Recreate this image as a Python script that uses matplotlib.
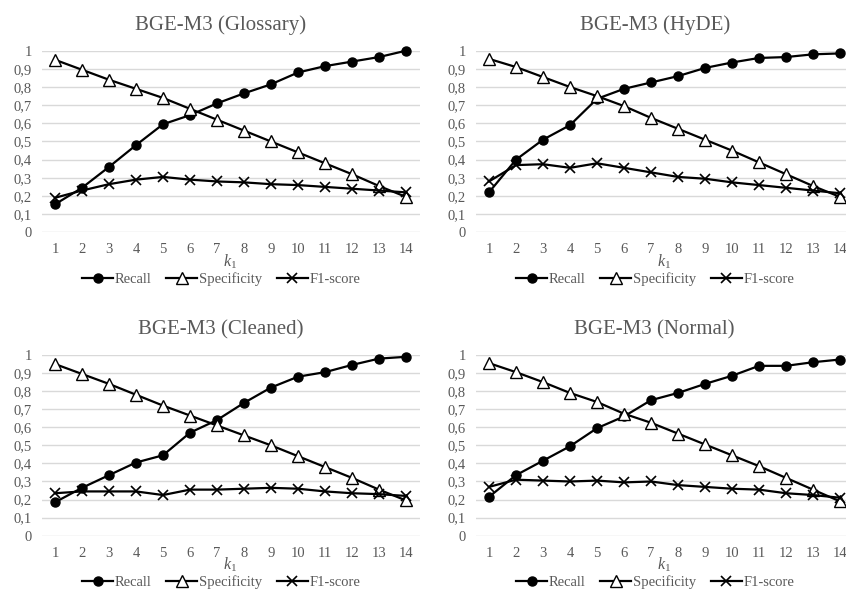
# Four-panel BGE-M3 comparison: Recall, Specificity and F1-score against k1
import matplotlib.pyplot as plt
from matplotlib.ticker import FuncFormatter, MultipleLocator

plt.rcParams['font.family'] = ['Liberation Serif', 'DejaVu Serif']
plt.rcParams['mathtext.fontset'] = 'custom'
plt.rcParams['mathtext.it'] = 'Liberation Serif:italic'
plt.rcParams['mathtext.rm'] = 'Liberation Serif'

k_values = list(range(1, 15))

titles = ['BGE-M3 (Glossary)', 'BGE-M3 (HyDE)', 'BGE-M3 (Cleaned)', 'BGE-M3 (Normal)']

recall_glossary = [0.154, 0.245, 0.36, 0.48, 0.595, 0.645, 0.71, 0.765, 0.815, 0.88, 0.915, 0.94, 0.965, 1.0]
spec_glossary = [0.95, 0.895, 0.84, 0.79, 0.74, 0.68, 0.62, 0.56, 0.50, 0.44, 0.38, 0.32, 0.255, 0.195]
f1_glossary = [0.19, 0.23, 0.265, 0.29, 0.305, 0.29, 0.28, 0.275, 0.265, 0.26, 0.25, 0.24, 0.23, 0.22]

recall_hyde = [0.22, 0.40, 0.51, 0.59, 0.735, 0.79, 0.825, 0.86, 0.905, 0.935, 0.96, 0.965, 0.98, 0.985]
spec_hyde = [0.955, 0.91, 0.855, 0.80, 0.75, 0.695, 0.63, 0.57, 0.51, 0.45, 0.385, 0.32, 0.255, 0.195]
f1_hyde = [0.28, 0.37, 0.375, 0.355, 0.38, 0.355, 0.33, 0.305, 0.295, 0.275, 0.26, 0.245, 0.23, 0.215]

recall_cleaned = [0.185, 0.265, 0.335, 0.405, 0.445, 0.57, 0.64, 0.735, 0.82, 0.88, 0.905, 0.945, 0.98, 0.99]
spec_cleaned = [0.95, 0.895, 0.84, 0.78, 0.72, 0.665, 0.61, 0.555, 0.50, 0.44, 0.38, 0.32, 0.255, 0.195]
f1_cleaned = [0.235, 0.245, 0.245, 0.245, 0.225, 0.255, 0.255, 0.26, 0.265, 0.26, 0.245, 0.235, 0.23, 0.22]

recall_normal = [0.215, 0.335, 0.415, 0.495, 0.595, 0.66, 0.75, 0.79, 0.84, 0.885, 0.94, 0.94, 0.96, 0.975]
spec_normal = [0.955, 0.905, 0.85, 0.79, 0.74, 0.675, 0.625, 0.565, 0.505, 0.445, 0.385, 0.32, 0.255, 0.19]
f1_normal = [0.27, 0.31, 0.305, 0.30, 0.305, 0.295, 0.30, 0.28, 0.27, 0.26, 0.255, 0.235, 0.225, 0.21]

panels = [
    (recall_glossary, spec_glossary, f1_glossary),
    (recall_hyde, spec_hyde, f1_hyde),
    (recall_cleaned, spec_cleaned, f1_cleaned),
    (recall_normal, spec_normal, f1_normal),
]

W, H = 846, 590
# axes boxes in pixels: left, top, width, height
boxes = [(41.5, 50.7, 378, 181.6), (475.5, 50.7, 378, 181.6),
         (41.5, 355, 378, 180.7), (475.5, 355, 378, 180.7)]

grey = '#595959'
fig = plt.figure(figsize=(8.46, 5.9), dpi=100)

for (recall, spec, f1), title, (l, t, w, h) in zip(panels, titles, boxes):
    ax = fig.add_axes([l / W, 1 - (t + h) / H, w / W, h / H])
    ax.plot(k_values, recall, '-o', color='black', lw=1.6, ms=6.5, label='Recall', clip_on=False)
    ax.plot(k_values, spec, '-^', color='black', lw=1.6, ms=8.5, mfc='white',
            mec='black', mew=1.0, label='Specificity', clip_on=False)
    ax.plot(k_values, f1, '-x', color='black', lw=1.6, ms=7.5, mew=1.2, label='F1-score', clip_on=False)

    ax.set_xlim(0.5, 14.5)
    ax.set_ylim(0, 1)
    ax.set_xticks(k_values)
    ax.yaxis.set_major_locator(MultipleLocator(0.1))
    ax.yaxis.set_major_formatter(FuncFormatter(lambda v, p: f'{v:.1f}'.rstrip('0').rstrip('.').replace('.', ',')))
    ax.grid(axis='y', color='#d9d9d9', lw=1)
    ax.set_axisbelow(True)
    for s in ax.spines.values():
        s.set_visible(False)
    ax.tick_params(length=0, labelsize=10.5, labelcolor=grey, pad=8)
    ax.tick_params(axis='y', pad=7)

    ax.set_title(title, fontsize=15, color=grey, pad=15, x=0.474)
    ax.set_xlabel(r'$\mathit{k_1}$', fontsize=11.5, color=grey, labelpad=-3)
    ax.legend(loc='center', bbox_to_anchor=(0.476, -0.258), ncol=3, frameon=False,
              fontsize=10.5, handlelength=2.1, handletextpad=0.15, columnspacing=1.0,
              labelcolor=grey, borderaxespad=0)

fig.savefig('out.png', dpi=100)
